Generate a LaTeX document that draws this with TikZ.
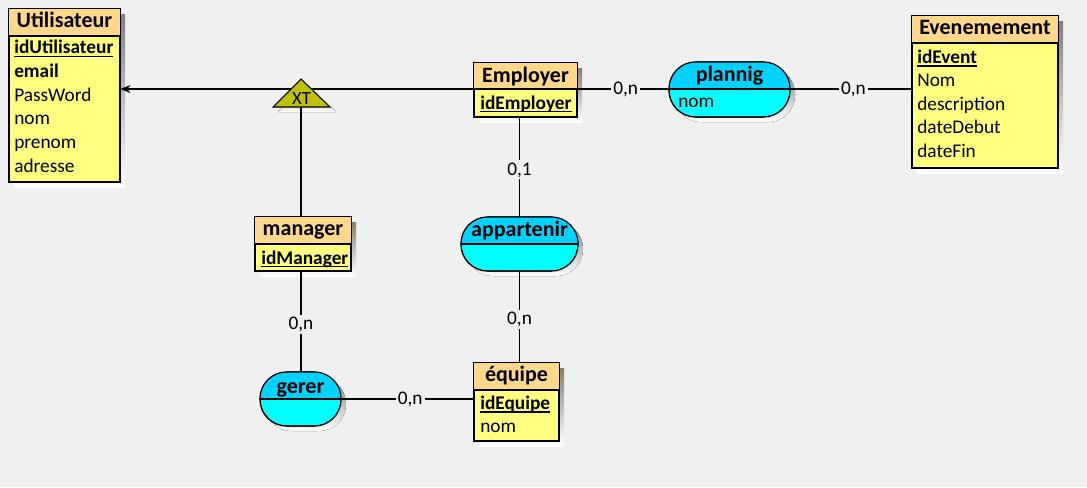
\documentclass[tikz,border=0pt]{standalone}
\usepackage{fontspec}
\setmainfont{Carlito}
\usetikzlibrary{arrows.meta,fit}

\definecolor{bgc}{RGB}{240,240,240}
\definecolor{enthead}{RGB}{255,216,140}
\definecolor{entbody}{RGB}{255,255,128}
\definecolor{relhead}{RGB}{0,210,255}
\definecolor{relbody}{RGB}{0,255,255}
\definecolor{inherit}{RGB}{192,192,0}
\definecolor{shade}{RGB}{192,192,192}

% bold identifier with a heavier underline
\newcommand\idkey[1]{\setbox0\hbox{\bfseries #1}\rlap{\rule[-2.4pt]{\wd0}{0.9pt}}\box0}

\tikzset{
  box/.style={fit={#1}, inner sep=0pt, draw=black, line width=0.8pt},
  ttl/.style={font=\fontsize{16.5}{16.5}\selectfont\bfseries, anchor=base, inner sep=0pt},
  attr/.style={font=\fontsize{14.5}{14.5}\selectfont, anchor=base west, inner sep=0pt},
  card/.style={fill=bgc, inner sep=1.5pt, font=\fontsize{14.5}{14.5}\selectfont},
  link/.style={line width=0.8pt},
}

\begin{document}
\begin{tikzpicture}[x=0.75pt,y=-0.75pt]
\fill[bgc] (0,0) rectangle (1087,487);
\useasboundingbox (0,0) rectangle (1087,487);

% ---------- drop shadows ----------
\fill[shade] (14,14) rectangle (125,187);
\fill[shade] (479,68) rectangle (582,122);
\fill[shade] (917,21) rectangle (1063,173);
\fill[shade] (260,222) rectangle (356,276);
\fill[shade] (479,368) rectangle (564,446);
\fill[shade, rounded corners=20pt] (674,67) rectangle (795,122);
\fill[shade, rounded corners=20pt] (466,222) rectangle (583,276);
\fill[shade, rounded corners=20pt] (265,377) rectangle (346,431);

% ---------- entities ----------
% Utilisateur
\node[box={(9,9) (120,182)}, fill=entbody] (util) {};
\fill[enthead] (9,9) rectangle (120,36);
\draw[line width=0.8pt] (util.north west) rectangle (util.south east);
\draw[line width=0.8pt] (9,36) -- (120,36);
\node[ttl] (utilT) at (64.5,27.3) {Utilisateur};
\node[attr] (utilA1) at (14,53.5) {\idkey{idUtilisateur}};
\node[attr] (utilA2) at (14,77.3) {\textbf{email}};
\node[attr] (utilA3) at (14,101) {PassWord};
\node[attr] (utilA4) at (14,124.7) {nom};
\node[attr] (utilA5) at (14,148.5) {prenom};
\node[attr] (utilA6) at (14,172.2) {adresse};

% Employer
\node[box={(474,63) (577,117)}, fill=entbody] (emp) {};
\fill[enthead] (474,63) rectangle (577,89);
\draw[line width=0.8pt] (emp.north west) rectangle (emp.south east);
\draw[line width=0.8pt] (474,89) -- (577,89);
\node[ttl] (empT) at (525.5,82) {Employer};
\node[attr] (empA1) at (480,109) {\idkey{idEmployer}};

% Evenemement
\node[box={(912,16) (1058,168)}, fill=entbody] (evt) {};
\fill[enthead] (912,16) rectangle (1058,43);
\draw[line width=0.8pt] (evt.north west) rectangle (evt.south east);
\draw[line width=0.8pt] (912,43) -- (1058,43);
\node[ttl] (evtT) at (985,34.5) {Evenemement};
\node[attr] (evtA1) at (917,63.3) {\idkey{idEvent}};
\node[attr] (evtA2) at (917,86.5) {Nom};
\node[attr] (evtA3) at (917,110) {description};
\node[attr] (evtA4) at (917,133.5) {dateDebut};
\node[attr] (evtA5) at (917,157) {dateFin};

% manager
\node[box={(255,217) (351,271)}, fill=entbody] (mgr) {};
\fill[enthead] (255,217) rectangle (351,244);
\draw[line width=0.8pt] (mgr.north west) rectangle (mgr.south east);
\draw[line width=0.8pt] (255,244) -- (351,244);
\node[ttl] (mgrT) at (303,235.5) {manager};
\node[attr] (mgrA1) at (261,264) {\idkey{idManager}};

% equipe
\node[box={(474,363) (559,441)}, fill=entbody] (eq) {};
\fill[enthead] (474,363) rectangle (559,390);
\draw[line width=0.8pt] (eq.north west) rectangle (eq.south east);
\draw[line width=0.8pt] (474,390) -- (559,390);
\node[ttl] (eqT) at (516.5,381.5) {équipe};
\node[attr] (eqA1) at (480,409.3) {\idkey{idEquipe}};
\node[attr] (eqA2) at (480,432.7) {nom};

% ---------- associations ----------
% plannig
\node[box={(669,62) (790,117)}, fill=relbody, rounded corners=20pt] (plan) {};
\begin{scope}
  \clip[rounded corners=20pt] (669,62) rectangle (790,117);
  \fill[relhead] (669,62) rectangle (790,89);
\end{scope}
\draw[line width=0.8pt, rounded corners=20pt] (669,62) rectangle (790,117);
\draw[line width=0.8pt] (669,89) -- (790,89);
\node[ttl] (planT) at (729.5,81.7) {plannig};
\node[attr] (planA1) at (678,107.7) {nom};

% appartenir
\node[box={(461,217) (578,271)}, fill=relbody, rounded corners=20pt] (app) {};
\begin{scope}
  \clip[rounded corners=20pt] (461,217) rectangle (578,271);
  \fill[relhead] (461,217) rectangle (578,244);
\end{scope}
\draw[line width=0.8pt, rounded corners=20pt] (461,217) rectangle (578,271);
\draw[line width=0.8pt] (461,244) -- (578,244);
\node[ttl] (appT) at (519.5,236.5) {appartenir};

% gerer
\node[box={(260,372) (341,426)}, fill=relbody, rounded corners=20pt] (ger) {};
\begin{scope}
  \clip[rounded corners=20pt] (260,372) rectangle (341,426);
  \fill[relhead] (260,372) rectangle (341,399);
\end{scope}
\draw[line width=0.8pt, rounded corners=20pt] (260,372) rectangle (341,426);
\draw[line width=0.8pt] (260,399) -- (341,399);
\node[ttl] (gerT) at (300.5,393) {gerer};

% ---------- links ----------
\coordinate (empL) at (474,89);
\coordinate (xtbase) at (301,107);
\draw[link, -{Stealth[length=7.5pt,width=6pt]}] (empL) -- (empL -| util.east);

% inheritance triangle
\fill[shade] (278,112) -- (306,84) -- (336,112) -- cycle;
\draw[line width=0.8pt, fill=inherit] (273,107) -- (301,79) -- (330,107) -- cycle;
\node[font=\fontsize{14}{14}\selectfont, anchor=base, inner sep=0pt] (xt) at (301.5,104) {XT};
\draw[link] (xtbase) -- (xtbase |- mgr.north);

\draw[link] (emp.east |- empL) -- node[card, pos=0.53] (c1) {0,n} (plan.west |- empL);
\draw[link] (plan.east |- empL) -- node[card, pos=0.52] (c2) {0,n} (evt.west |- empL);
\draw[link] (emp.south -| app.north) -- node[card, pos=0.53] (c3) {0,1} (app.north);
\draw[link] (app.south) -- node[card, pos=0.53] (c4) {0,n} (app.south |- eq.north);
\draw[link] (mgr.south -| xtbase) -- node[card, pos=0.53] (c5) {0,n} (ger.north -| xtbase);
\draw[link] (ger.east) -- node[card, pos=0.52] (c6) {0,n} (ger.east -| eq.west);
\end{tikzpicture}
\end{document}
